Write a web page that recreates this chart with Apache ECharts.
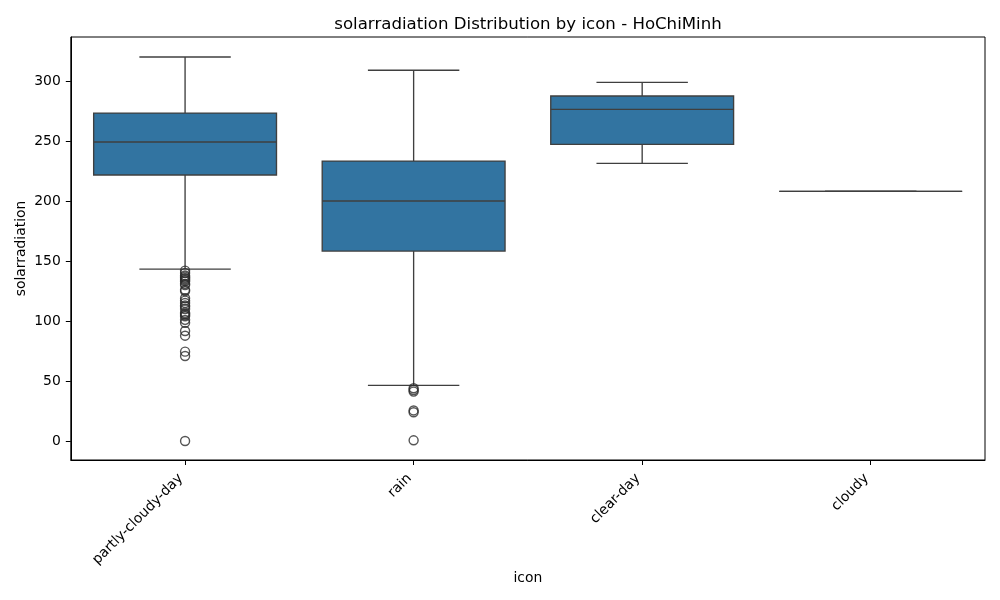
<!DOCTYPE html>
<html>
<head>
<meta charset="utf-8">
<style>html,body{margin:0;padding:0;background:#fff}#c{width:1000px;height:600px}</style>
<script src="https://cdn.jsdelivr.net/npm/echarts@6/dist/echarts.min.js"></script>
</head>
<body>
<div id="c"></div>
<script>
const categories = ['partly-cloudy-day', 'rain', 'clear-day', 'cloudy'];
const whiskerLow = [143.3, 46.4, 231.4, 208];
const q1 = [221.7, 158.3, 247.2, 208];
const median = [249.2, 200, 276.4, 208];
const q3 = [273.3, 233.3, 287.5, 208];
const whiskerHigh = [320, 309, 298.9, 208];
const partlyCloudyOutliers = [142, 140, 138, 137, 136, 135, 134, 133, 131, 130, 126, 125, 119, 117, 115, 113, 112, 110, 107, 106, 105, 104, 101, 98.6, 91.7, 87.8, 74.5, 70.9, 0];
const rainOutliers = [44, 42.5, 41.2, 25.5, 24, 0.6];
const yTicks = [0, 50, 100, 150, 200, 250, 300];

const ink = '#3f3f3f', fill = '#3274a1', lw = 1.35;
const boxRows = categories.map((c, i) => [i, whiskerLow[i], q1[i], median[i], q3[i], whiskerHigh[i]]);
const outlierRows = [
  ...partlyCloudyOutliers.map(v => [0, v]),
  ...rainOutliers.map(v => [1, v])
];

function renderBox(params, api) {
  const i = api.value(0);
  const band = api.size([1, 0])[0];
  const cx = api.coord([i, 0])[0];
  const y = k => api.coord([i, api.value(k)])[1];
  const hb = band * 0.4, hc = band * 0.2;
  const line = (x1, y1, x2, y2) => ({
    type: 'line',
    shape: { x1, y1, x2, y2 },
    style: { stroke: ink, lineWidth: lw, fill: null }
  });
  return {
    type: 'group',
    children: [
      line(cx, y(1), cx, y(2)),
      line(cx, y(4), cx, y(5)),
      line(cx - hc, y(1), cx + hc, y(1)),
      line(cx - hc, y(5), cx + hc, y(5)),
      {
        type: 'rect',
        shape: { x: cx - hb, y: y(4), width: hb * 2, height: y(2) - y(4) },
        style: { fill, stroke: ink, lineWidth: lw }
      },
      line(cx - hb, y(3), cx + hb, y(3))
    ]
  };
}

const font = 'DejaVu Sans';
const chart = echarts.init(document.getElementById('c'), null, { renderer: 'canvas' });
chart.setOption({
  animation: false,
  backgroundColor: '#fff',
  title: {
    text: 'solarradiation Distribution by icon - HoChiMinh',
    left: 523, top: 11, textAlign: 'center',
    textStyle: { fontFamily: font, fontSize: 16.6, fontWeight: 'normal', color: '#000' }
  },
  grid: { left: 70.8, right: 15, top: 37, bottom: 140, show: true, borderColor: '#000', borderWidth: 1, backgroundColor: 'transparent' },
  xAxis: {
    type: 'category',
    data: categories,
    name: 'icon', nameLocation: 'middle', nameGap: 111, nameMoveOverlap: false,
    nameTextStyle: { fontFamily: font, fontSize: 13.9, color: '#000' },
    axisLine: { show: true, onZero: false, lineStyle: { color: '#000', width: 1 } },
    axisTick: { show: true, alignWithLabel: true, length: 5, lineStyle: { color: '#000', width: 1 } },
    axisLabel: { rotate: 45, interval: 0, margin: 12, padding: [0, 6, 0, 0], fontFamily: font, fontSize: 13.9, color: '#000' },
    splitLine: { show: false }
  },
  yAxis: {
    type: 'value',
    min: -15.8, max: 336.7,
    name: 'solarradiation', nameLocation: 'middle', nameGap: 42, nameMoveOverlap: false,
    nameTextStyle: { fontFamily: font, fontSize: 13.9, color: '#000' },
    axisLine: { show: true, lineStyle: { color: '#000', width: 1 } },
    axisTick: { show: true, length: 5, lineStyle: { color: '#000', width: 1 }, customValues: yTicks },
    axisLabel: { margin: 10, fontFamily: font, fontSize: 13.9, color: '#000', customValues: yTicks },
    splitLine: { show: false }
  },
  series: [
    {
      type: 'custom',
      data: boxRows,
      encode: { x: 0, y: [1, 2, 3, 4, 5] },
      renderItem: renderBox,
      clip: false,
      z: 2
    },
    {
      type: 'scatter',
      data: outlierRows,
      symbol: 'circle',
      symbolSize: 9,
      itemStyle: { color: 'rgba(255,255,255,0)', borderColor: '#2a2a2a', borderWidth: 1.4 },
      z: 3
    }
  ]
});
</script>
</body>
</html>
